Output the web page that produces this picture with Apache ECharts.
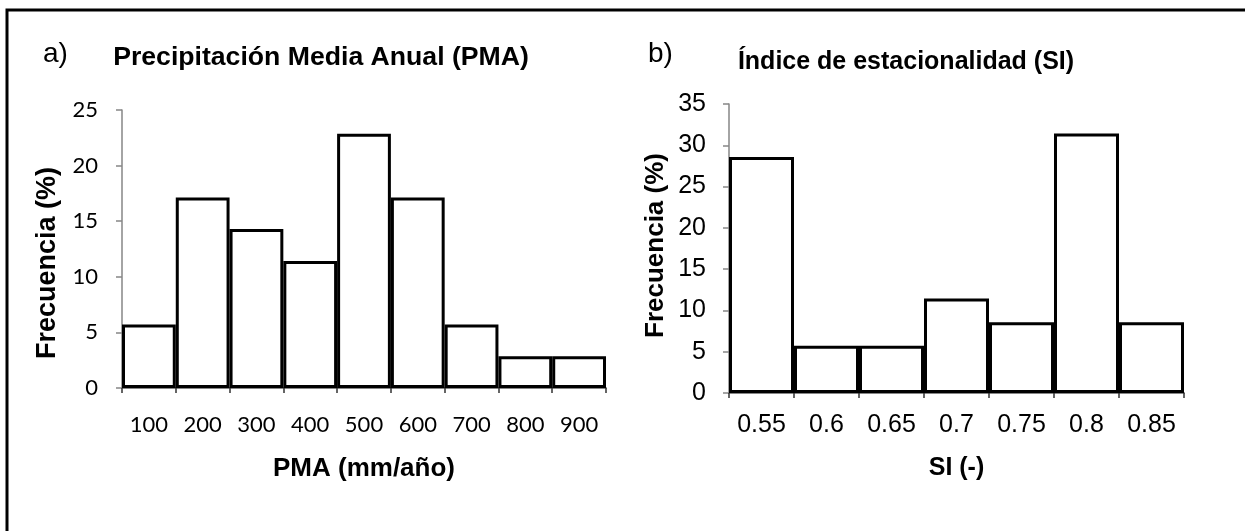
<!DOCTYPE html>
<html>
<head>
<meta charset="utf-8">
<script src="https://cdn.jsdelivr.net/npm/echarts@6/dist/echarts.min.js"></script>
<style>
  html, body { margin: 0; padding: 0; background: #ffffff; }
  #chart { width: 1245px; height: 531px; }
</style>
</head>
<body>
<div id="chart"></div>
<script>
// Panel a) annual mean precipitation histogram
const pmaCategories = ['100', '200', '300', '400', '500', '600', '700', '800', '900'];
const pmaFrequency = [5.71, 17.14, 14.29, 11.43, 22.86, 17.14, 5.71, 2.86, 2.86];

// Panel b) seasonality index histogram
const siCategories = ['0.55', '0.6', '0.65', '0.7', '0.75', '0.8', '0.85'];
const siFrequency = [28.57, 5.71, 5.71, 11.43, 8.57, 31.43, 8.57];

const chart = echarts.init(document.getElementById('chart'), null, { renderer: 'canvas' });

const axisGray = '#868686';

function barSeries(data, idx) {
  return {
    type: 'bar',
    xAxisIndex: idx,
    yAxisIndex: idx,
    data: data,
    barCategoryGap: '0%',
    itemStyle: { color: '#ffffff', borderColor: '#000000', borderWidth: 3 },
    silent: true,
    animation: false
  };
}

function catAxis(idx, cats, name, labelFont, labelSize, labelMargin, nameSize, nameGap) {
  return {
    type: 'category',
    gridIndex: idx,
    data: cats,
    boundaryGap: true,
    axisLine: { show: true, lineStyle: { color: axisGray, width: 2 } },
    axisTick: { show: true, length: 5, lineStyle: { color: '#333', width: 1.5 } },
    axisLabel: { fontFamily: labelFont, fontSize: labelSize, color: '#000', margin: labelMargin },
    name: name,
    nameLocation: 'middle',
    nameGap: nameGap,
    nameTextStyle: { fontFamily: 'Liberation Sans', fontWeight: 'bold', fontSize: nameSize, color: '#000' }
  };
}

function valAxis(idx, max, labelFont, labelSize, labelMargin, nameSize, nameGap, namePadding) {
  return {
    type: 'value',
    gridIndex: idx,
    min: 0,
    max: max,
    interval: 5,
    axisLine: { show: true, lineStyle: { color: axisGray, width: 1.5 } },
    axisTick: { show: true, length: 6, lineStyle: { color: axisGray, width: 1.5 } },
    splitLine: { show: false },
    axisLabel: { fontFamily: labelFont, fontSize: labelSize, color: '#000', margin: labelMargin },
    name: 'Frecuencia (%)',
    nameLocation: 'middle',
    nameGap: nameGap,
    nameRotate: 90,
    nameTextStyle: {
      fontFamily: 'Liberation Sans', fontWeight: 'bold', fontSize: nameSize, color: '#000',
      padding: namePadding
    }
  };
}

chart.setOption({
  backgroundColor: '#ffffff',
  animation: false,
  grid: [
    { left: 122, right: 639, top: 110, bottom: 143, containLabel: false },
    { left: 729, right: 61, top: 104, bottom: 138, containLabel: false }
  ],
  xAxis: [
    catAxis(0, pmaCategories, 'PMA (mm/año)', 'Lato', 22, 26, 26, 68),
    catAxis(1, siCategories, 'SI (-)', 'Liberation Sans', 25, 20, 25, 63)
  ],
  yAxis: [
    valAxis(0, 25, 'Lato', 22, 24, 27, 61, [0, 28, 0, 0]),
    valAxis(1, 35, 'Liberation Sans', 25, 23, 26, 60, [0, 0, 0, 6])
  ],
  series: [barSeries(pmaFrequency, 0), barSeries(siFrequency, 1)],
  graphic: [
    {
      type: 'rect', silent: true,
      shape: { x: 7, y: 10, width: 1400, height: 700 },
      style: { fill: 'none', stroke: '#000', lineWidth: 3 }
    },
    { type: 'text', silent: true, x: 43, y: 54,
      style: { text: 'a)', font: '28px "Liberation Sans"', fill: '#000', verticalAlign: 'middle' } },
    { type: 'text', silent: true, x: 321, y: 58, scaleX: 1.065,
      style: { text: 'Precipitación Media Anual (PMA)', font: 'bold 25px "Liberation Sans"', fill: '#000', align: 'center', verticalAlign: 'middle' } },
    { type: 'text', silent: true, x: 648, y: 54,
      style: { text: 'b)', font: '28px "Liberation Sans"', fill: '#000', verticalAlign: 'middle' } },
    { type: 'text', silent: true, x: 906, y: 62,
      style: { text: 'Índice de estacionalidad (SI)', font: 'bold 25px "Liberation Sans"', fill: '#000', align: 'center', verticalAlign: 'middle' } }
  ]
});
</script>
</body>
</html>
